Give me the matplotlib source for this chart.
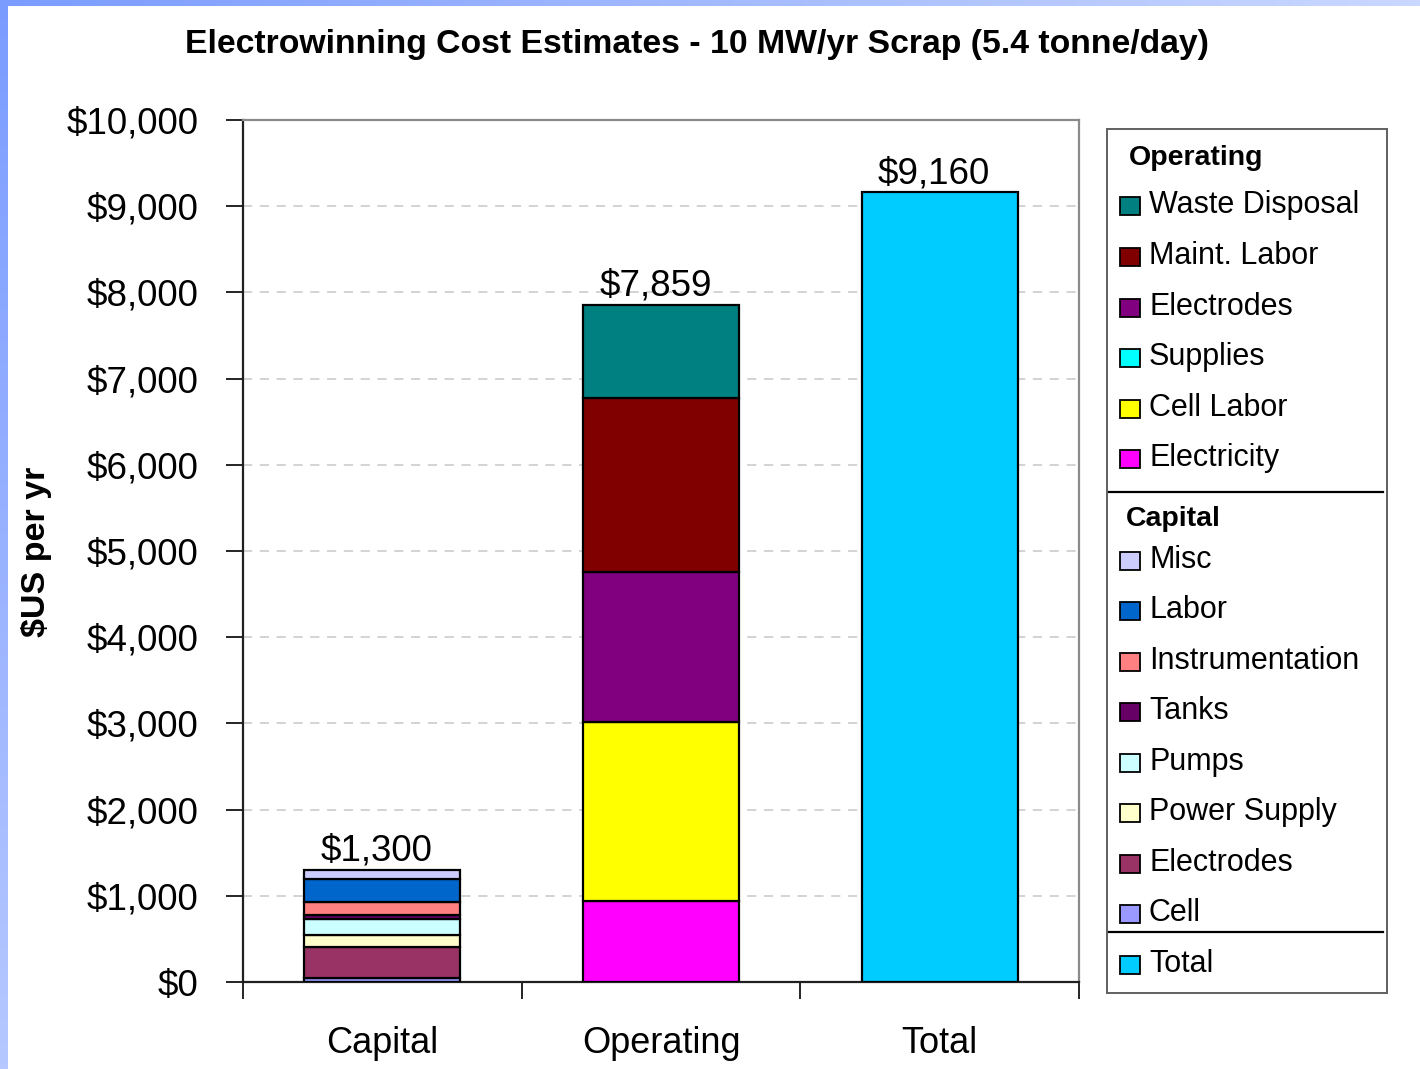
import numpy as np
import matplotlib
matplotlib.use("Agg")
import matplotlib.pyplot as plt
from matplotlib.patches import Rectangle
from matplotlib.lines import Line2D
from matplotlib.ticker import FuncFormatter

plt.rcParams['font.family'] = ['Liberation Sans', 'DejaVu Sans']

# ---- data ($US per year) ----
bar_categories = ["Capital", "Operating", "Total"]

capital_items = ["Cell", "Electrodes", "Power Supply", "Pumps", "Tanks",
                 "Instrumentation", "Labor", "Misc"]
capital_values = [50, 355, 140, 185, 45, 150, 275, 100]
capital_colors = ["#9999FF", "#993366", "#FFFFCC", "#CCFFFF", "#660066",
                  "#FF8080", "#0066CC", "#CCCCFF"]

operating_items = ["Electricity", "Cell Labor", "Supplies", "Electrodes",
                   "Maint. Labor", "Waste Disposal"]
operating_values = [940, 2080, 0, 1740, 2020, 1079]
operating_colors = ["#FF00FF", "#FFFF00", "#00FFFF", "#800080",
                    "#800000", "#008080"]

total_value = 9160
total_color = "#00CCFF"

bar_labels = ["$1,300", "$7,859", "$9,160"]

yticks = list(range(0, 10001, 1000))

W, H = 1420, 1069
fig = plt.figure(figsize=(W / 100, H / 100), dpi=100)

# ---- gradient frame along the top and left edges ----
bg = fig.add_axes([0, 0, 1, 1], zorder=-10)
bg.set_xlim(0, W)
bg.set_ylim(H, 0)
bg.axis("off")
top_grad = np.linspace(0, 1, 256)[None, :]
left_grad = np.linspace(0, 1, 256)[:, None]
c0 = np.array([0x7B, 0x9C, 0xFF]) / 255
c_right = np.array([0xCA, 0xD8, 0xFF]) / 255
c_bottom = np.array([0xB6, 0xC8, 0xFF]) / 255
top_img = c0[None, None, :] * (1 - top_grad[..., None]) + c_right[None, None, :] * top_grad[..., None]
left_img = c0[None, None, :] * (1 - left_grad[..., None]) + c_bottom[None, None, :] * left_grad[..., None]
bg.imshow(top_img, extent=[0, W, 6, 0], aspect="auto")
bg.imshow(left_img, extent=[0, 8, H, 0], aspect="auto")

# ---- main chart ----
ax = fig.add_axes([243 / W, 1 - 982 / H, 836 / W, 862 / H])
x = np.arange(len(bar_categories))
width = 0.56
edge = dict(edgecolor="black", linewidth=1.6)

bottom = 0
for name, val, col in zip(capital_items, capital_values, capital_colors):
    ax.bar(x[0], val, width, bottom=bottom, color=col, zorder=3, **edge)
    bottom += val

bottom = 0
for name, val, col in zip(operating_items, operating_values, operating_colors):
    if val > 0:
        ax.bar(x[1], val, width, bottom=bottom, color=col, zorder=3, **edge)
    bottom += val

ax.bar(x[2], total_value, width, color=total_color, zorder=3, **edge)

tops = [sum(capital_values), sum(operating_values), total_value]
for xi, top, lab in zip(x, tops, bar_labels):
    ax.annotate(lab, (xi, top), xytext=(-4, 1), textcoords="offset points",
                ha="center", va="bottom", fontsize=26.5)

ax.set_xlim(-0.5, 2.5)
ax.set_ylim(0, 10000)
ax.set_yticks(yticks)
ax.yaxis.set_major_formatter(FuncFormatter(lambda v, p: f"${v:,.0f}"))
ax.set_xticks([-0.5, 0.5, 1.5, 2.5], minor=False)
ax.set_xticklabels([])
ax.set_xticks(x, minor=True)
ax.set_xticklabels(bar_categories, minor=True, fontsize=26)
ax.tick_params(axis="x", which="minor", length=0, pad=32)
ax.tick_params(axis="x", which="major", direction="out", length=12, width=1.2)
ax.tick_params(axis="y", direction="out", length=12, width=1.2, labelsize=26.5, pad=20)
for v in yticks[1:-1]:
    ax.axhline(v, color="#C8C8C8", linestyle=(0, (6, 5)), linewidth=1.1, zorder=1)

ax.spines["left"].set_color("#202020")
ax.spines["bottom"].set_color("#202020")
ax.spines["top"].set_color("#8A8A8A")
ax.spines["right"].set_color("#8A8A8A")
for s in ax.spines.values():
    s.set_linewidth(1.6)

ax.set_ylabel("$US per yr", fontsize=24.5, fontweight="bold")
ax.yaxis.set_label_coords((37 - 243) / 836, 1 - (552 - 120) / 862)
ax.yaxis.label.set_va("center")

fig.text(697 / W, 1 - 44 / H, "Electrowinning Cost Estimates - 10 MW/yr Scrap (5.4 tonne/day)",
         ha="center", va="center", fontsize=24.3, fontweight="bold")

# ---- grouped legend ----
lg = fig.add_axes([1107 / W, 1 - 993 / H, 280 / W, 864 / H])
lg.set_xlim(1107, 1387)
lg.set_ylim(993, 129)
lg.set_xticks([])
lg.set_yticks([])
for s in lg.spines.values():
    s.set_color("#606060")
    s.set_linewidth(1.4)


def legend_entry(y, label, color):
    lg.add_patch(Rectangle((1120, y - 8), 20, 18, facecolor=color,
                           edgecolor="black", linewidth=1.3))
    lg.text(1149, y, label, fontsize=22, va="center", ha="left")


lg.text(1129, 158, "Operating", fontsize=20.5, fontweight="bold", va="center")
op_rows = [205, 256, 307, 357, 408, 458]
for y, name, col in zip(op_rows, operating_items[::-1], operating_colors[::-1]):
    legend_entry(y, name, col)
lg.add_line(Line2D([1107, 1383], [492, 492], color="black", linewidth=1.6))

lg.text(1126, 519, "Capital", fontsize=20.5, fontweight="bold", va="center")
cap_rows = [560, 610, 661, 711, 762, 812, 863, 913]
for y, name, col in zip(cap_rows, capital_items[::-1], capital_colors[::-1]):
    legend_entry(y, name, col)
lg.add_line(Line2D([1107, 1383], [932, 932], color="black", linewidth=1.6))

legend_entry(964, "Total", total_color)

fig.savefig("out.png", dpi=100)
